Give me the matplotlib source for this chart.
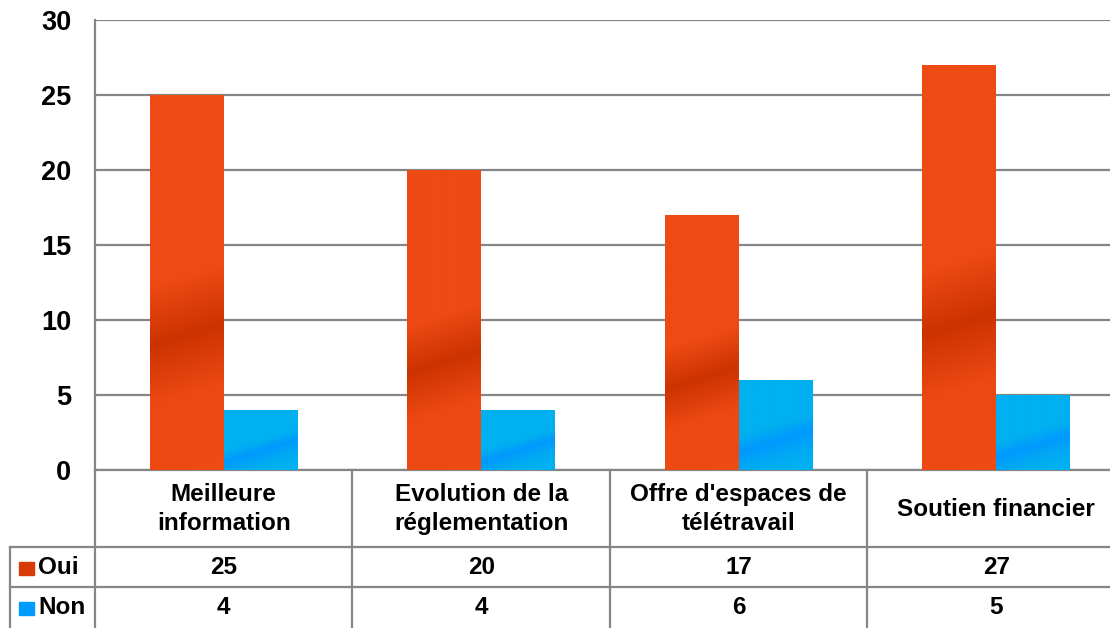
import numpy as np
import matplotlib.pyplot as plt
from matplotlib.colors import LinearSegmentedColormap

categories = ["Meilleure\ninformation", "Evolution de la\nréglementation",
              "Offre d'espaces de\ntélétravail", "Soutien financier"]
series = ["Oui", "Non"]
oui = [25, 20, 17, 27]
non = [4, 4, 6, 5]
yticks = [0, 5, 10, 15, 20, 25, 30]

W, H = 1110, 628
fig = plt.figure(figsize=(W / 100, H / 100), dpi=100)
plt.rcParams['font.family'] = ['Liberation Sans', 'DejaVu Sans']

# plot area in pixels: left 95, right ~1125 (cut off), top 20, bottom 470
x0, x1, ytop, ybot = 95, 1125, 20, 470
ax = fig.add_axes([x0 / W, (H - ybot) / H, (x1 - x0) / W, (ybot - ytop) / H])
ax.set_xlim(0, 4)
ax.set_ylim(0, 30)

grey = "#868686"
cmap_oui = LinearSegmentedColormap.from_list(
    "oui", [(0, "#ee4a14"), (0.2, "#ec4813"), (0.36, "#cc3300"), (0.52, "#ee4a14"), (1, "#ee4a14")])
cmap_non = LinearSegmentedColormap.from_list(
    "non", [(0, "#00b0f0"), (0.15, "#00a8f4"), (0.32, "#0099ff"), (0.5, "#00b0f0"), (1, "#00b0f0")])

w = 0.287
x = np.arange(4) + 0.5
py = 30 / (ybot - ytop)   # data units per pixel, vertical
px = 4 / (x1 - x0)        # data units per pixel, horizontal


def gradient_bars(xs, vals, cmap):
    bars = ax.bar(xs, vals, width=w, color="none", edgecolor="none", zorder=3)
    gx, gy = np.meshgrid(np.linspace(0, 1, 40), np.linspace(0, 1, 300))
    for b in bars:
        bx, by, bh = b.get_x(), b.get_y(), b.get_height()
        rise = 22 * py / bh
        g = gy - rise * (gx - 0.5)
        im = ax.imshow(g, cmap=cmap, vmin=0, vmax=1, origin="lower", aspect="auto",
                       extent=[bx, bx + b.get_width(), by, by + bh], zorder=3)
        im.set_clip_path(b)
    return bars


gradient_bars(x - w / 2, oui, cmap_oui)
gradient_bars(x + w / 2, non, cmap_non)
ax.set_xlim(0, 4)
ax.set_ylim(0, 30)

ax.set_yticks(yticks)
ax.set_yticklabels([str(t) for t in yticks], fontsize=19.5, fontweight="bold")
ax.tick_params(axis="y", length=0, pad=17)
ax.set_xticks([])
ax.grid(axis="y", color=grey, linewidth=1.6, zorder=0)
for s in ["top", "right"]:
    ax.spines[s].set_visible(False)
ax.spines["left"].set_color(grey)
ax.spines["left"].set_linewidth(1.6)
ax.spines["bottom"].set_color(grey)
ax.spines["bottom"].set_linewidth(1.6)

# data table below the axis
r1 = -(547 - ybot) * py
r2 = -(587 - ybot) * py
r3 = -(640 - ybot) * py
xl = -(x0 - 10) * px
kw = dict(color=grey, linewidth=1.6, clip_on=False, zorder=1)
for i in range(0, 5):
    ax.plot([i, i], [0, r3], **kw)
ax.plot([xl, 4], [r1, r1], **kw)
ax.plot([xl, 4], [r2, r2], **kw)
ax.plot([xl, xl], [r1, r3], **kw)

row_oui = -(568 - ybot) * py
row_non = -(608 - ybot) * py
tk = dict(fontsize=17.5, fontweight="bold", ha="center", va="center", clip_on=False)
for i, c in enumerate(categories):
    ax.text(i + 0.5, -(509 - ybot) * py, c, linespacing=1.3, **tk)
    ax.text(i + 0.5, row_oui, str(oui[i]), **tk)
    ax.text(i + 0.5, row_non, str(non[i]), **tk)

for name, yy, cm in zip(series, [row_oui, row_non], [cmap_oui, cmap_non]):
    ax.add_patch(plt.Rectangle((-(x0 - 19) * px, yy - 6.5 * py), 15 * px, 13 * py,
                               color=cm(0.3), clip_on=False))
    ax.text(-(x0 - 38) * px, yy, name, fontsize=17.5, fontweight="bold",
            ha="left", va="center", clip_on=False)

fig.savefig("out.png", dpi=100)
